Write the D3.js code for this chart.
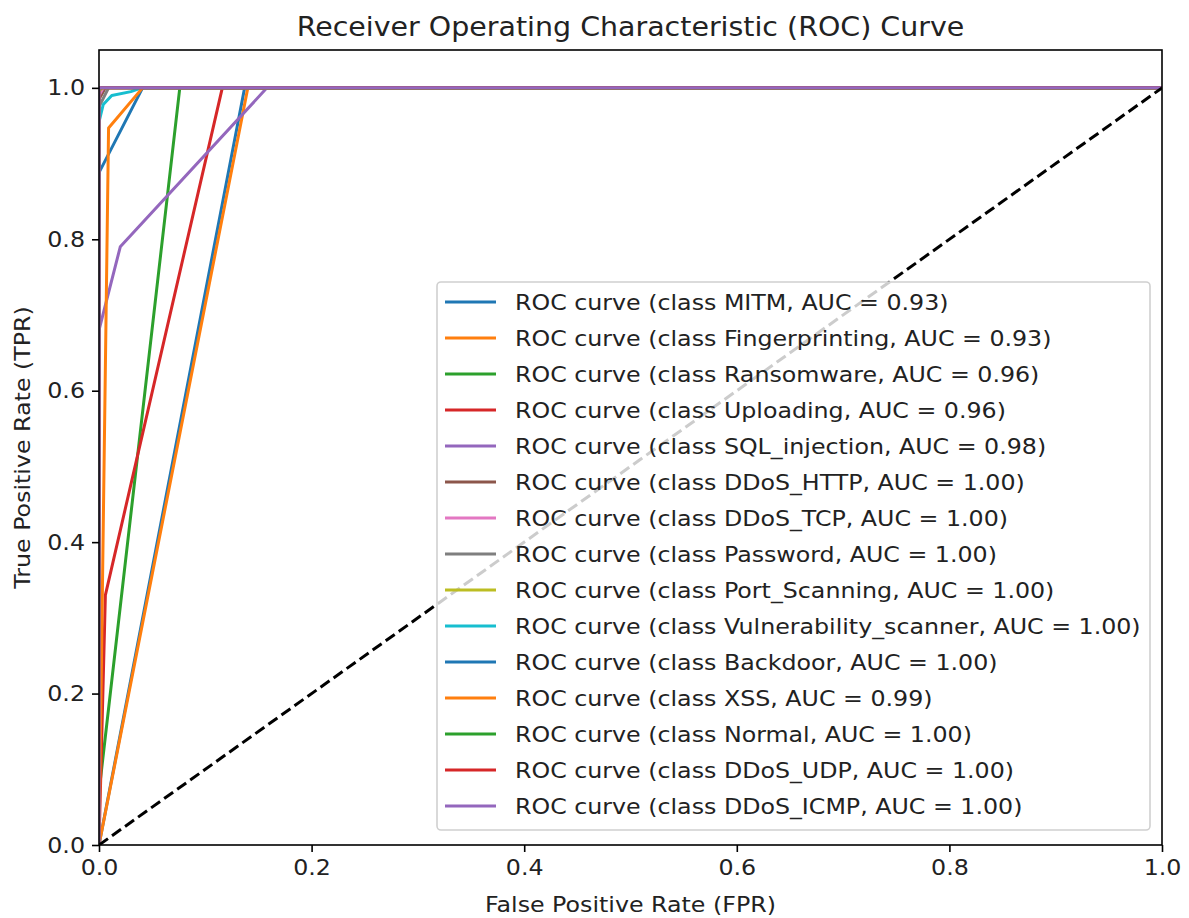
<!DOCTYPE html>
<html>
<head>
<meta charset="utf-8">
<script src="https://cdn.jsdelivr.net/npm/d3@7"></script>
<style>
body { margin: 0; background: #fff; }
text { font-family: "DejaVu Sans", sans-serif; fill: #222; }
</style>
</head>
<body>
<svg width="1189" height="918"></svg>
<script>
// class names in legend order
const classes = ['MITM', 'Fingerprinting', 'Ransomware', 'Uploading', 'SQL_injection',
  'DDoS_HTTP', 'DDoS_TCP', 'Password', 'Port_Scanning', 'Vulnerability_scanner',
  'Backdoor', 'XSS', 'Normal', 'DDoS_UDP', 'DDoS_ICMP'];
const aucs = ['0.93', '0.93', '0.96', '0.96', '0.98', '1.00', '1.00', '1.00', '1.00', '1.00',
  '1.00', '0.99', '1.00', '1.00', '1.00'];

// roc points, [fpr, tpr]
const rocMITM = [[0, 0], [0.137, 1], [1, 1]];
const rocFingerprinting = [[0, 0], [0.14, 1], [1, 1]];
const rocRansomware = [[0, 0], [0, 0.07], [0.076, 1], [1, 1]];
const rocUploading = [[0, 0], [0.006, 0.33], [0.116, 1], [1, 1]];
const rocSQL = [[0, 0], [0, 0.68], [0.02, 0.79], [0.158, 1], [1, 1]];
const rocHTTP = [[0, 0], [0, 0.985], [0.006, 1], [1, 1]];
const rocTCP = [[0, 0], [0, 0.99], [0.004, 1], [1, 1]];
const rocPassword = [[0, 0], [0, 0.975], [0.009, 1], [1, 1]];
const rocPortScan = [[0, 0], [0, 0.995], [0.003, 1], [1, 1]];
const rocVuln = [[0, 0], [0, 0.955], [0.004, 0.978], [0.012, 0.99], [0.03, 0.995], [0.04, 1], [1, 1]];
const rocBackdoor = [[0, 0], [0, 0.888], [0.041, 1], [1, 1]];
const rocXSS = [[0, 0], [0.009, 0.947], [0.041, 1], [1, 1]];
const rocNormal = [[0, 0], [0, 0.998], [0.002, 1], [1, 1]];
const rocUDP = [[0, 0], [0, 0.999], [0.001, 1], [1, 1]];
const rocICMP = [[0, 0], [0, 1], [1, 1]];

const curves = [rocMITM, rocFingerprinting, rocRansomware, rocUploading, rocSQL, rocHTTP, rocTCP,
  rocPassword, rocPortScan, rocVuln, rocBackdoor, rocXSS, rocNormal, rocUDP, rocICMP];

const xTicks = [0, 0.2, 0.4, 0.6, 0.8, 1.0];
const yTicks = [0, 0.2, 0.4, 0.6, 0.8, 1.0];

const colors = d3.schemeCategory10;
const widen = 1.078; // reference glyphs run a bit wider than the browser's

const svg = d3.select('svg');
const plotL = 99, plotR = 1162, plotT = 50, plotB = 845;

const x = d3.scaleLinear().domain([0, 1]).range([plotL, plotR]);
const y = d3.scaleLinear().domain([0, 1.05]).range([plotB, plotT]);

function stretch(sel) {
  sel.each(function() {
    const w = this.getComputedTextLength();
    d3.select(this).attr('textLength', w * widen).attr('lengthAdjust', 'spacingAndGlyphs');
  });
}

svg.append('clipPath').attr('id', 'clip')
  .append('rect').attr('x', plotL).attr('y', plotT)
  .attr('width', plotR - plotL).attr('height', plotB - plotT);

const plot = svg.append('g').attr('clip-path', 'url(#clip)');
const line = d3.line().x(d => x(d[0])).y(d => y(d[1]));

curves.forEach((c, i) => {
  plot.append('path')
    .attr('d', line(c))
    .attr('fill', 'none')
    .attr('stroke', colors[i % 10])
    .attr('stroke-width', 3)
    .attr('stroke-linejoin', 'round')
    .attr('stroke-linecap', 'square');
});

// chance line
plot.append('path')
  .attr('d', line([[0, 0], [1, 1]]))
  .attr('fill', 'none')
  .attr('stroke', '#000')
  .attr('stroke-width', 3)
  .attr('stroke-dasharray', '11,5');

// axes
const xAxis = svg.append('g').attr('transform', `translate(0,${plotB})`)
  .call(d3.axisBottom(x).tickValues(xTicks).tickFormat(d3.format('.1f')).tickSize(7).tickPadding(7));
const yAxis = svg.append('g').attr('transform', `translate(${plotL},0)`)
  .call(d3.axisLeft(y).tickValues(yTicks).tickFormat(d3.format('.1f')).tickSize(7).tickPadding(7));
[xAxis, yAxis].forEach(a => {
  a.select('.domain').remove();
  a.selectAll('line').attr('stroke', '#000').attr('stroke-width', 1.6);
  a.selectAll('text').style('font-size', '22px').attr('font-family', null).style('fill', '#222');
  stretch(a.selectAll('text'));
});

svg.append('rect')
  .attr('x', plotL).attr('y', plotT)
  .attr('width', plotR - plotL).attr('height', plotB - plotT)
  .attr('fill', 'none').attr('stroke', '#000').attr('stroke-width', 1.6);

// title and labels
svg.append('text').attr('x', (plotL + plotR) / 2).attr('y', 36)
  .attr('text-anchor', 'middle').style('font-size', '26.4px')
  .text('Receiver Operating Characteristic (ROC) Curve').call(stretch);
svg.append('text').attr('x', (plotL + plotR) / 2).attr('y', 912)
  .attr('text-anchor', 'middle').style('font-size', '22px')
  .text('False Positive Rate (FPR)').call(stretch);
svg.append('text')
  .attr('transform', `translate(30,${(plotT + plotB) / 2}) rotate(-90)`)
  .attr('text-anchor', 'middle').style('font-size', '22px')
  .text('True Positive Rate (TPR)').call(stretch);

// legend
const legX = 437, legY = 282, rowH = 36;
const leg = svg.append('g');
leg.append('rect')
  .attr('x', legX).attr('y', legY)
  .attr('width', 713).attr('height', 548)
  .attr('rx', 4)
  .attr('fill', 'rgba(255,255,255,0.8)')
  .attr('stroke', '#d0d0d0').attr('stroke-width', 1.6);

classes.forEach((name, i) => {
  const cy = legY + 20 + i * rowH;
  leg.append('line')
    .attr('x1', legX + 8).attr('x2', legX + 59)
    .attr('y1', cy).attr('y2', cy)
    .attr('stroke', colors[i % 10]).attr('stroke-width', 3);
  leg.append('text')
    .attr('x', legX + 78).attr('y', cy)
    .attr('dy', '0.35em')
    .style('font-size', '22px')
    .text(`ROC curve (class ${name}, AUC = ${aucs[i]})`)
    .call(stretch);
});
</script>
</body>
</html>
